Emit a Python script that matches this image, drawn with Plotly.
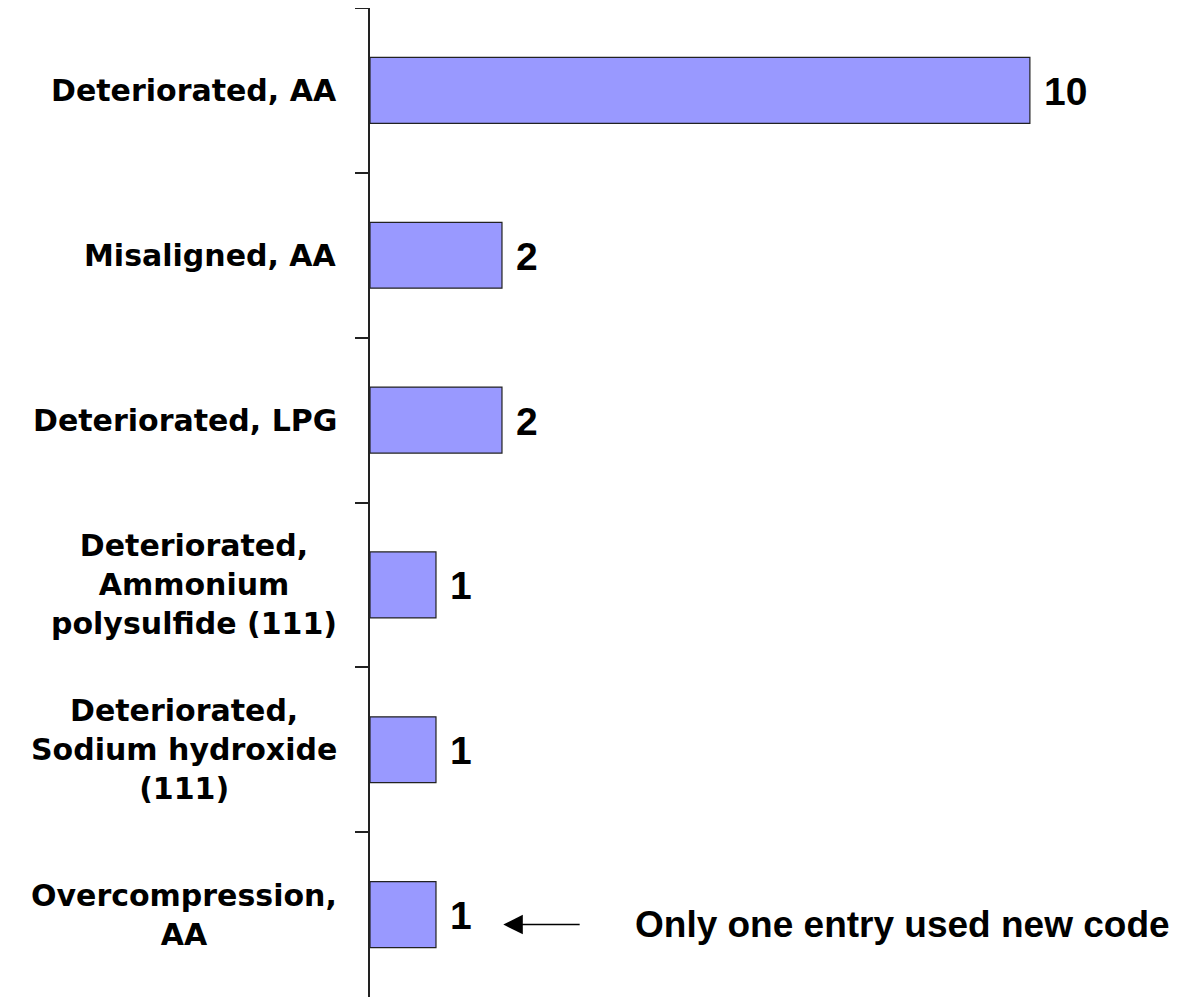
import plotly.graph_objects as go

categories = [
    "Deteriorated, AA",
    "Misaligned, AA",
    "Deteriorated, LPG",
    "Deteriorated,<br>Ammonium<br>polysulfide (111)",
    "Deteriorated,<br>Sodium hydroxide<br>(111)",
    "Overcompression,<br>AA",
]
counts = [10, 2, 2, 1, 1, 1]
note_text = "Only one entry used new code"

fig = go.Figure()
fig.add_trace(go.Bar(
    x=counts, y=categories, orientation="h", width=0.4,
    marker=dict(color="#9999FF", line=dict(color="#222222", width=1.2)),
    hoverinfo="skip",
))

# category labels (centered multi-line, like the original)
for cat in categories:
    fig.add_annotation(
        x=0, xref="paper", y=cat, yref="y", text=cat, showarrow=False,
        xanchor="right", yanchor="middle", align="center", xshift=-31,
        font=dict(family="DejaVu Sans", size=30, color="black", weight="bold"),
    )

# value labels
for cat, val in zip(categories, counts):
    fig.add_annotation(
        x=val, y=cat, text=str(val), showarrow=False,
        xanchor="left", yanchor="middle", xshift=12, yshift=-1,
        font=dict(family="Liberation Sans, Arial", size=39, color="black", weight="bold"),
    )

# arrow + note for the last entry
fig.add_annotation(
    x=2.02, y=categories[-1], ax=3.2, ay=categories[-1], axref="x", ayref="y",
    yshift=-10, text="", showarrow=True,
    arrowhead=2, arrowsize=2.6, arrowwidth=1.5, arrowcolor="black",
)
fig.add_annotation(
    x=3.99, y=categories[-1], text=note_text, showarrow=False,
    xanchor="left", yanchor="middle", yshift=-10,
    font=dict(family="Liberation Sans, Arial", size=37, color="black", weight="bold"),
)

fig.update_xaxes(range=[0, 12.29], visible=False)
fig.update_yaxes(
    categoryorder="array", categoryarray=categories, autorange="reversed",
    showticklabels=False, tickson="boundaries", ticks="outside", ticklen=13,
    tickcolor="#222222", tickwidth=1.5, showline=True, linecolor="#222222",
    linewidth=1.5, showgrid=False, zeroline=False,
)
# page body adds an 8px offset, so the figure is sized to fit the window
fig.update_layout(
    width=1173, height=989, margin=dict(l=362, r=0, t=0, b=0),
    plot_bgcolor="white", paper_bgcolor="white", showlegend=False,
)

fig.write_html("out.html")
